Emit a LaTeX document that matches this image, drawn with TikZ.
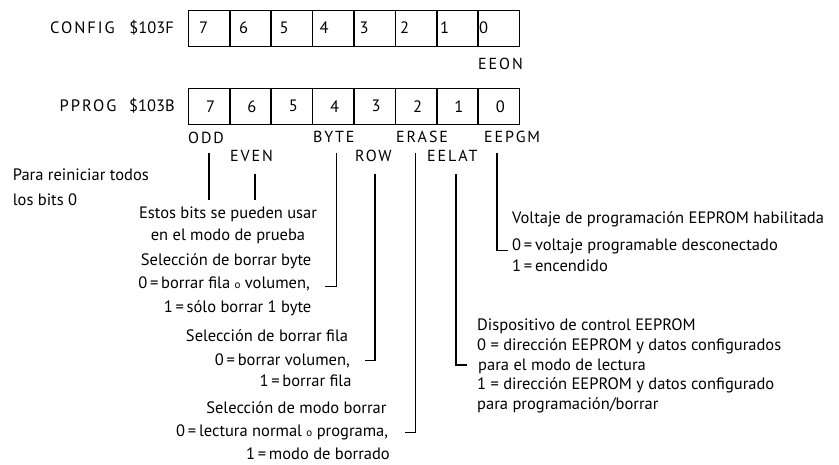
\documentclass[tikz,border=0pt]{standalone}
\usepackage{fontspec}
\setmainfont{PT Sans}
\newfontfamily\labfont[LetterSpace=12]{PT Sans}
\newfontfamily\regfont[LetterSpace=12]{PT Sans}
\begin{document}
\begin{tikzpicture}[x=1pt,y=-1pt,
  txt/.style={inner sep=0pt,font=\fontsize{16.5}{18}\selectfont},
  lab/.style={inner sep=0pt,font=\labfont\fontsize{16}{18}\selectfont},
  reg/.style={inner sep=0pt,font=\regfont\fontsize{16.5}{18}\selectfont},
  cell/.style={draw,line width=1.6pt,minimum width=41.4pt,minimum height=36pt,inner sep=0pt,anchor=north west},
  conn/.style={line width=1.8pt}]
\useasboundingbox (0,0) rectangle (839,464);
\newcommand{\smallo}{{\fontsize{11}{11}\selectfont o}}
% register labels
\node[reg,anchor=east] (cfgname) at (115,27.5) {CONFIG};
\node[txt,anchor=east] (cfgaddr) at (174,27.5) {\$103F};
\node[reg,anchor=east] (ppname) at (116.7,105.5) {PPROG};
\node[txt,anchor=east] (ppaddr) at (175,105.5) {\$103B};
% register cells
\foreach \i in {0,...,7}{
  \node[cell] (c\i) at ({187.5+41.4*\i},9.5) {};
  \node[cell] (p\i) at ({187.5+41.4*\i},87.5) {};
}
\foreach \d/\x in {7/199,6/239,5/279.5,4/319.5,3/359.5,2/400,1/440,0/479}{
  \node[txt,anchor=west] (cd\d) at (\x,27.5) {\d};
}
\foreach \d/\i in {7/0,6/1,5/2,4/3,3/4,2/5,1/6,0/7}{
  \node[txt] (pd\d) at ([xshift=1.5pt]p\i.center) {\d};
}
\node[lab,anchor=west] (eeon) at (478,64) {EEON};
% PPROG bit names
\node[lab,anchor=west] (odd) at (188,138) {ODD};
\node[lab,anchor=west] (byte) at (313,137) {BYTE};
\node[lab,anchor=west] (erase) at (396,137) {ERASE};
\node[lab,anchor=west] (eepgm) at (484,137) {EEPGM};
\node[lab,anchor=west] (even) at (230,156) {EVEN};
\node[lab,anchor=west] (row) at (355,156) {ROW};
\node[lab,anchor=west] (eelat) at (427,156) {EELAT};
% connector coordinates
\coordinate (oddA) at (209.3,153);
\coordinate (oddB) at (209.3,199.5);
\coordinate (evenA) at (255,173.5);
\coordinate (evenB) at (255,199.5);
\coordinate (byteA) at (336.5,153);
\coordinate (byteB) at (325,286.5);
\coordinate (rowA) at (375,173.5);
\coordinate (rowB) at (365,360.5);
\coordinate (eraseA) at (415.5,153);
\coordinate (eraseB) at (405,432.5);
\coordinate (eelatA) at (456,173.5);
\coordinate (eelatB) at (467,365);
\coordinate (eepgmA) at (497,153);
\coordinate (eepgmB) at (508,250.5);
\draw[conn] (oddA) -- (oddB);
\draw[conn] (evenA) -- (evenB);
\draw[conn] (byteA) |- (byteB);
\draw[conn] (rowA) |- (rowB);
\draw[conn] (eraseA) |- (eraseB);
\draw[conn] (eelatA) |- (eelatB);
\draw[conn] (eepgmA) |- (eepgmB);
% left notes
\node[txt,anchor=base west] (t1) at (12.7,180) {Para reiniciar todos};
\node[txt,anchor=base west] (t2) at (12.7,205) {los bits 0};
\node[txt,anchor=base] (t3) at (228,218) {Estos bits se pueden usar};
\node[txt,anchor=base] (t4) at (228,240) {en el modo de prueba};
\node[txt,anchor=base east] (t5) at (311.5,265) {Selección de borrar byte};
\node[txt,anchor=base east] (t6) at (310,288) {0\,=\,borrar fila \smallo{} volumen,};
\node[txt,anchor=base east] (t7) at (311.5,312) {1\,=\,sólo borrar 1 byte};
\node[txt,anchor=base east] (t8) at (348.3,341.7) {Selección de borrar fila};
\node[txt,anchor=base east] (t9) at (350,365) {0\,=\,borrar volumen,};
\node[txt,anchor=base east] (t10) at (351.7,386.7) {1\,=\,borrar fila};
\node[txt,anchor=base east] (t11) at (386.7,413.3) {Selección de modo borrar};
\node[txt,anchor=base east] (t12) at (388.3,436.7) {0\,=\,lectura normal \smallo{} programa,};
\node[txt,anchor=base east] (t13) at (390,459) {1\,=\,modo de borrado};
% right notes
\node[txt,anchor=base west] (v1) at (512,223) {Voltaje de programación EEPROM\ habilitada};
\node[txt,anchor=base west] (v2) at (512,250) {0\,=\,voltaje programable desconectado};
\node[txt,anchor=base west] (v3) at (512,271) {1\,=\,encendido};
\node[txt,anchor=base west] (d1) at (477,330) {Dispositivo de control EEPROM};
\node[txt,anchor=base west] (d2) at (477,350.5) {0 = dirección EEPROM y datos configurados};
\node[txt,anchor=base west] (d3) at (478,370) {para el modo de lectura};
\node[txt,anchor=base west] (d4) at (477,389) {1 = dirección EEPROM y datos configurado};
\node[txt,anchor=base west] (d5) at (477,409) {para programación/borrar};
\end{tikzpicture}
\end{document}
